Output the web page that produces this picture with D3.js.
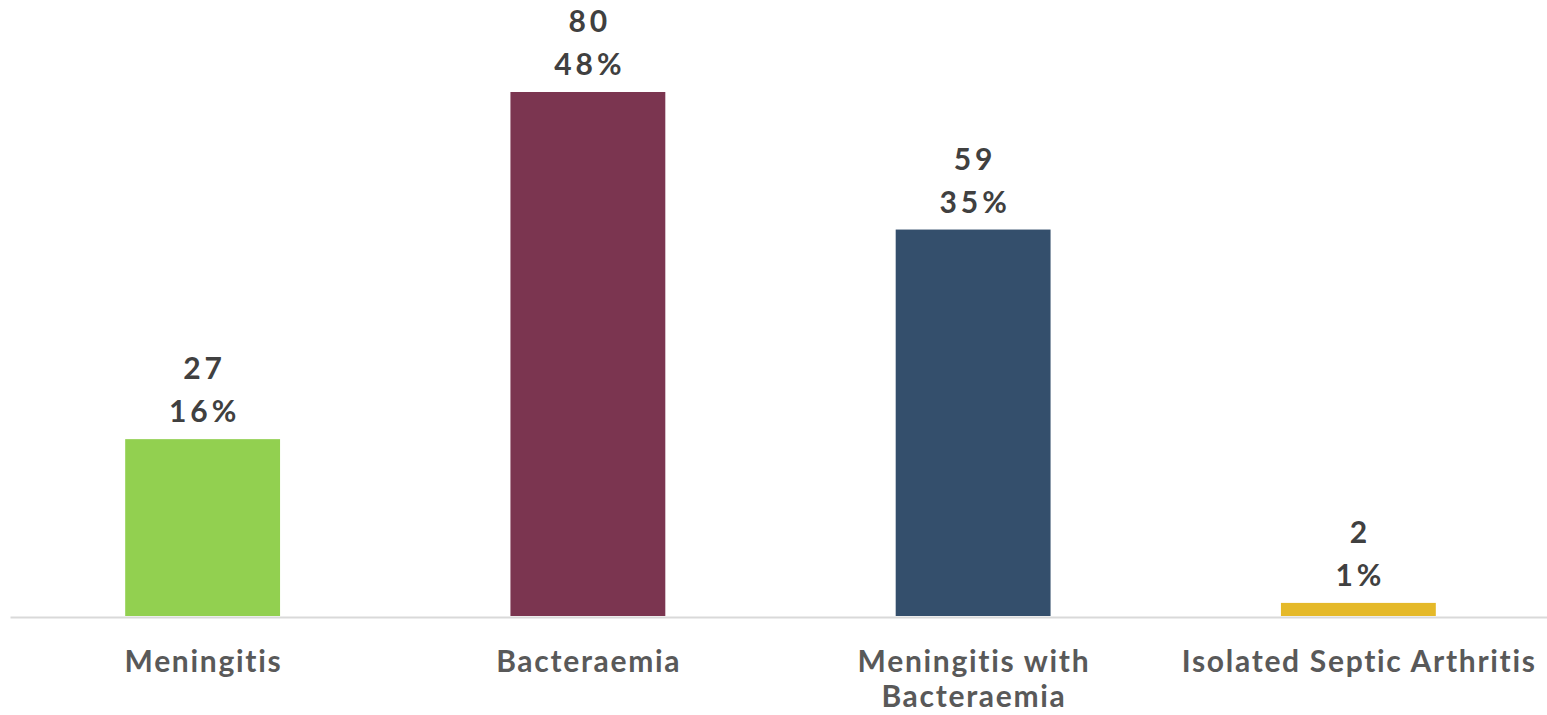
<!DOCTYPE html>
<html>
<head>
<meta charset="utf-8">
<script src="https://cdn.jsdelivr.net/npm/d3@7"></script>
<style>
  html, body { margin: 0; padding: 0; background: #ffffff; }
  svg { display: block; }
  text { font-family: Lato, "Open Sans", sans-serif; font-weight: 700; }
</style>
</head>
<body>
<svg id="chart" width="1547" height="715"></svg>
<script>
// Presentation types, case counts and share of total
const categories = ["Meningitis", "Bacteraemia", "Meningitis with Bacteraemia", "Isolated Septic Arthritis"];
const categoryLines = [["Meningitis"], ["Bacteraemia"], ["Meningitis with", "Bacteraemia"], ["Isolated Septic Arthritis"]];
const counts = [27, 80, 59, 2];
const percents = ["16%", "48%", "35%", "1%"];
const colors = ["#92d050", "#7b3550", "#344f6c", "#e5b929"];

const svg = d3.select("#chart");
const width = 1547, height = 715;
const margin = { top: 0, right: -4, bottom: 99, left: 10 };
const baseline = height - margin.bottom;

const x = d3.scaleBand()
  .domain(categories)
  .range([margin.left, width - margin.right])
  .paddingInner(0.598)
  .paddingOuter(0.299);

const y = d3.scaleLinear()
  .domain([0, 80])
  .range([baseline, 92]);

// bars
svg.append("g").selectAll("rect")
  .data(categories)
  .join("rect")
  .attr("x", d => x(d))
  .attr("y", (d, i) => y(counts[i]))
  .attr("width", x.bandwidth())
  .attr("height", (d, i) => baseline - y(counts[i]))
  .attr("fill", (d, i) => colors[i]);

// category axis
const axis = svg.append("g")
  .attr("transform", `translate(0,${baseline + 1})`)
  .call(d3.axisBottom(x).tickSize(0).tickFormat(""));
axis.select(".domain").attr("stroke", "#d9d9d9").attr("stroke-width", 2);

const catSpacing = 1.7;
const cx = d => x(d) + x.bandwidth() / 2 + catSpacing / 2;
const labels = svg.append("g").selectAll("text")
  .data(categories)
  .join("text")
  .attr("x", cx)
  .attr("y", 672)
  .attr("text-anchor", "middle")
  .attr("fill", "#595959")
  .style("font-size", "30px")
  .style("letter-spacing", catSpacing + "px");
labels.selectAll("tspan")
  .data((d, i) => categoryLines[i].map(t => ({ t, c: d })))
  .join("tspan")
  .attr("x", d => cx(d.c))
  .attr("dy", (d, j) => j === 0 ? 0 : 35)
  .text(d => d.t);

// value labels: count and percentage
const valSpacing = 4;
const vx = d => x(d) + x.bandwidth() / 2 + valSpacing / 2;
const vals = svg.append("g").selectAll("text")
  .data(categories)
  .join("text")
  .attr("x", vx)
  .attr("y", (d, i) => y(counts[i]) - 60)
  .attr("text-anchor", "middle")
  .attr("fill", "#404040")
  .style("font-size", "30px")
  .style("letter-spacing", valSpacing + "px");
vals.append("tspan")
  .attr("x", vx)
  .text((d, i) => counts[i]);
vals.append("tspan")
  .attr("x", vx)
  .attr("dy", 43)
  .text((d, i) => percents[i]);
</script>
</body>
</html>
